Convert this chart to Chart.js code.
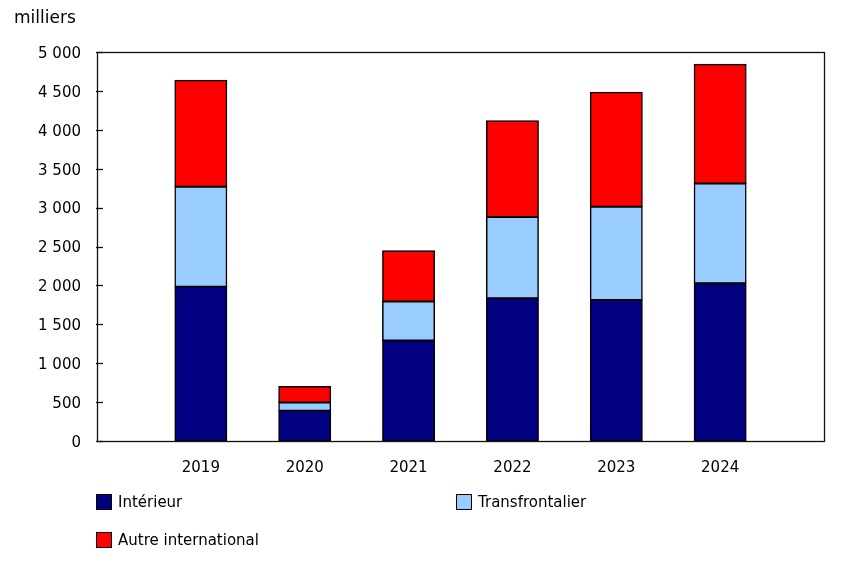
<!DOCTYPE html>
<html lang="fr">
<head>
<meta charset="utf-8">
<script src="https://cdn.jsdelivr.net/npm/chart.js@4"></script>
<style>
  html, body { margin: 0; padding: 0; background: #fff; }
  #wrap { position: relative; width: 861px; height: 563px; font-family: "DejaVu Sans", Verdana, sans-serif; color: #000; }
  #unit { position: absolute; left: 14px; top: 7px; font-size: 17px; }
  #legend { position: absolute; left: 96px; top: 493px; display: grid; grid-template-columns: 360px 300px; row-gap: 20px; font-size: 15px; }
  .item { display: flex; align-items: center; height: 18px; }
  .swatch { width: 14px; height: 14px; border: 1px solid #000; margin-right: 6px; }
</style>
</head>
<body>
<div id="wrap">
  <canvas id="chart" width="861" height="563"></canvas>
  <div id="unit">milliers</div>
  <div id="legend"></div>
</div>
<script>
// === Data ===
// blank slots at both ends keep the empty margin left of 2019 and right of 2024
const years = ['', '2019', '2020', '2021', '2022', '2023', '2024', ''];
const interieur = [null, 1984, 389, 1291, 1835, 1813, 2028, null];
const transfrontalier = [null, 1284, 106, 501, 1044, 1198, 1283, null];
const autreInternational = [null, 1369, 206, 654, 1236, 1472, 1531, null];
const seriesNames = ['Intérieur', 'Transfrontalier', 'Autre international'];
const seriesColors = ['#000080', '#99CCFF', '#FF0000'];

Chart.defaults.font.family = '"DejaVu Sans", Verdana, sans-serif';
Chart.defaults.font.size = 15;
Chart.defaults.color = '#000';

// thousands with a space: 1 500
function fmt(v) {
  return String(v).replace(/\B(?=(\d{3})+(?!\d))/g, ' ');
}

// === Frame + inward ticks ===
const framePlugin = {
  id: 'frame',
  afterDatasetsDraw(chart) {
    const { ctx, chartArea: a } = chart;
    const y = chart.scales.y;
    ctx.save();
    ctx.strokeStyle = '#111';
    ctx.lineWidth = 1.3;
    ctx.strokeRect(a.left + 0.5, a.top + 0.5, a.right - a.left, a.bottom - a.top);
    y.ticks.forEach(t => {
      const py = Math.round(y.getPixelForValue(t.value)) + 0.5;
      ctx.beginPath();
      ctx.moveTo(a.left - 1, py);
      ctx.lineTo(a.left + 6, py);
      ctx.stroke();
    });
    ctx.restore();
  }
};

const datasets = [interieur, transfrontalier, autreInternational].map((d, i) => ({
  label: seriesNames[i],
  data: d,
  backgroundColor: seriesColors[i],
  borderColor: '#000',
  borderWidth: 1.5,
  borderSkipped: false,
  inflateAmount: 0.5,
  categoryPercentage: 1,
  barPercentage: 0.5
}));

new Chart(document.getElementById('chart'), {
  type: 'bar',
  data: { labels: years, datasets: datasets },
  options: {
    responsive: false,
    animation: false,
    layout: { padding: { top: 52, right: 37, left: 0, bottom: 0 } },
    plugins: {
      legend: { display: false },
      tooltip: { enabled: false }
    },
    scales: {
      x: {
        stacked: true,
        offset: false,
        grid: { display: false, drawTicks: false },
        border: { display: false },
        ticks: { padding: 18, maxRotation: 0, autoSkip: false },
        afterFit(scale) { scale.height = 563 - 441; }
      },
      y: {
        stacked: true,
        min: 0,
        max: 5000,
        grid: { display: false, drawTicks: false },
        border: { display: false },
        ticks: { stepSize: 500, padding: 16, labelOffset: 2, callback: v => fmt(v) },
        afterFit(scale) { scale.width = 97; }
      }
    }
  },
  plugins: [framePlugin]
});

// === HTML legend (two columns) ===
const legend = document.getElementById('legend');
seriesNames.forEach((name, i) => {
  const item = document.createElement('div');
  item.className = 'item';
  item.innerHTML = `<span class="swatch" style="background:${seriesColors[i]}"></span><span>${name}</span>`;
  legend.appendChild(item);
});
</script>
</body>
</html>
